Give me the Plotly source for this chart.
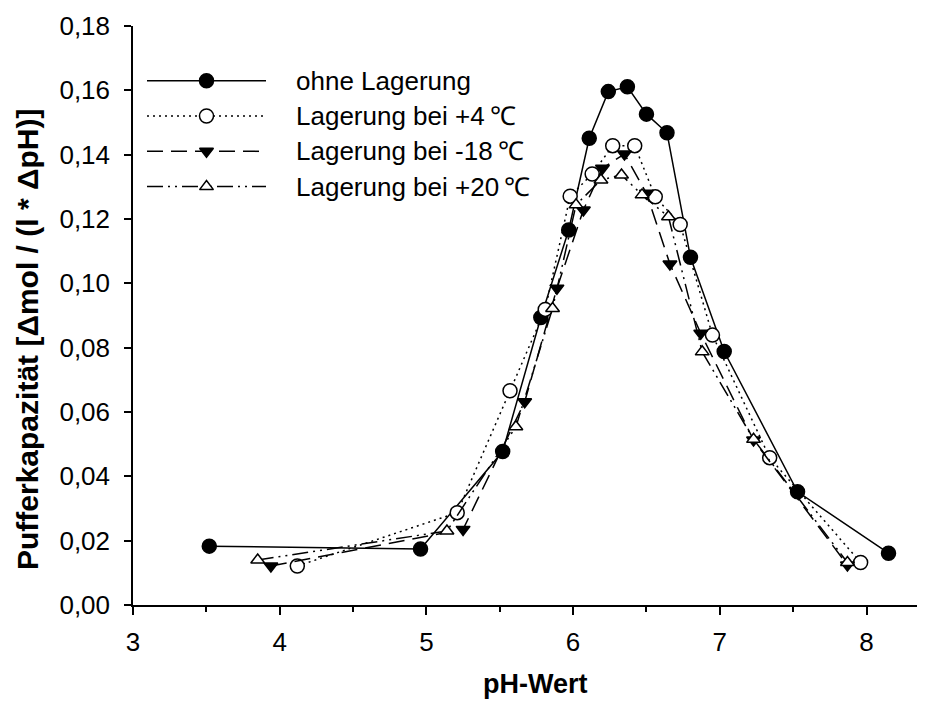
import plotly.graph_objects as go

# ---- data ----
ph_ohne = [3.52, 4.96, 5.52, 5.78, 5.97, 6.11, 6.24, 6.37, 6.50, 6.64, 6.80, 7.03, 7.53, 8.15]
pk_ohne = [0.0183, 0.0174, 0.0477, 0.0894, 0.1166, 0.1451, 0.1596, 0.1611, 0.1526, 0.1468, 0.1081, 0.0788, 0.0352, 0.0161]

ph_p4 = [4.12, 5.21, 5.57, 5.81, 5.98, 6.13, 6.27, 6.42, 6.56, 6.73, 6.95, 7.34, 7.96]
pk_p4 = [0.0121, 0.0287, 0.0666, 0.0919, 0.1271, 0.1340, 0.1428, 0.1428, 0.1269, 0.1183, 0.0839, 0.0458, 0.0132]

ph_m18 = [3.94, 5.25, 5.67, 5.89, 6.07, 6.20, 6.35, 6.50, 6.66, 6.87, 7.23, 7.87]
pk_m18 = [0.0121, 0.0235, 0.0632, 0.0985, 0.1228, 0.1358, 0.1402, 0.1280, 0.1060, 0.0845, 0.0513, 0.0124]

ph_p20 = [3.85, 5.14, 5.61, 5.86, 6.02, 6.19, 6.33, 6.47, 6.65, 6.88, 7.23, 7.87]
pk_p20 = [0.0140, 0.0230, 0.0554, 0.0922, 0.1244, 0.1321, 0.1337, 0.1275, 0.1207, 0.0787, 0.0515, 0.0132]

names = ["ohne Lagerung", "Lagerung bei +4\u2009\u2103", "Lagerung bei -18\u2009\u2103", "Lagerung bei +20\u2009\u2103"]
x_ticks = [3, 4, 5, 6, 7, 8]
y_ticks = [0.00, 0.02, 0.04, 0.06, 0.08, 0.10, 0.12, 0.14, 0.16, 0.18]
y_ticktext = [f"{v:.2f}".replace(".", ",") for v in y_ticks]

FONT = "Liberation Sans, Arial, sans-serif"
BLACK = "black"

# page layout (the page body adds an 8px offset)
OFF = 8
W, H = 909, 691
ML, MT, MB, MR = 125, 18, 94, 0
PW = W - ML - MR
PH = H - MT - MB
UNIT_X = 146.7  # px per pH unit


def px_x(page_x):
    return (page_x - OFF - ML) / PW


def px_y(page_y):
    return 1 - (page_y - OFF - MT) / PH


styles = [
    dict(dash="solid", symbol="circle", fill=BLACK, size=14),
    dict(dash="2px,4px", symbol="circle", fill="white", size=14),
    dict(dash="16px,8px", symbol="triangle-down", fill=BLACK, size=12),
    dict(dash="16px,5px,2px,5px,2px,5px", symbol="triangle-up", fill="white", size=12),
]
series = [(ph_ohne, pk_ohne), (ph_p4, pk_p4), (ph_m18, pk_m18), (ph_p20, pk_p20)]

fig = go.Figure()
for (xs, ys), st, nm in zip(series, styles, names):
    fig.add_trace(go.Scatter(
        x=xs, y=ys, mode="lines+markers", name=nm, showlegend=False,
        line=dict(color=BLACK, width=1.5, dash=st["dash"]),
        marker=dict(symbol=st["symbol"], size=st["size"], color=st["fill"],
                    line=dict(color=BLACK, width=1.5)),
    ))

# ---- custom legend on an overlay axis in page-pixel units ----
row0, row_step = 80.7, 35.3
for i, (st, nm) in enumerate(zip(styles, names)):
    yy = row0 + i * row_step
    fig.add_trace(go.Scatter(
        x=[147, 266], y=[yy, yy], mode="lines", xaxis="x2", yaxis="y2", showlegend=False,
        line=dict(color=BLACK, width=1.5, dash=st["dash"]), hoverinfo="skip"))
    fig.add_trace(go.Scatter(
        x=[206.5], y=[yy], mode="markers", xaxis="x2", yaxis="y2", showlegend=False,
        marker=dict(symbol=st["symbol"], size=st["size"], color=st["fill"],
                    line=dict(color=BLACK, width=1.5)), hoverinfo="skip"))
    fig.add_annotation(x=294, y=yy, xref="x2", yref="y2", text=nm, showarrow=False,
                       xanchor="left", yanchor="middle",
                       font=dict(family=FONT, size=26, color=BLACK))

fig.update_layout(
    width=W, height=H,
    margin=dict(l=ML, r=MR, t=MT, b=MB, autoexpand=False),
    paper_bgcolor="white", plot_bgcolor="white",
    font=dict(family=FONT, size=26, color=BLACK),
    xaxis=dict(range=[3, 3 + PW / UNIT_X], tickvals=x_ticks, ticks="outside", ticklen=8,
               tickwidth=1.5, tickcolor=BLACK, showline=True, linecolor=BLACK, linewidth=1.5,
               showgrid=False, zeroline=False, ticklabelstandoff=5,
               minor=dict(dtick=0.5, tick0=3, ticks="outside", ticklen=5, tickwidth=1.5,
                          tickcolor=BLACK, showgrid=False),
               tickfont=dict(family=FONT, size=26)),
    yaxis=dict(range=[0, 0.18], tickvals=y_ticks, ticktext=y_ticktext, ticks="outside",
               ticklen=7, tickwidth=1.5, tickcolor=BLACK, showline=True, linecolor=BLACK,
               linewidth=1.5, showgrid=False, zeroline=False, ticklabelstandoff=9,
               tickfont=dict(family=FONT, size=26)),
    xaxis2=dict(overlaying="x", range=[OFF + ML, OFF + ML + PW], visible=False),
    yaxis2=dict(overlaying="y", range=[OFF + MT + PH, OFF + MT], visible=False),
    showlegend=False,
)

fig.add_annotation(x=px_x(535), y=px_y(684), xref="paper", yref="paper",
                   text="<b>pH-Wert</b>", showarrow=False,
                   xanchor="center", yanchor="middle", font=dict(family=FONT, size=27))
fig.add_annotation(x=px_x(27), y=px_y(340), xref="paper", yref="paper",
                   text="<b>Pufferkapazität [Δmol / (l * ΔpH)]</b>", showarrow=False,
                   textangle=-90, xanchor="center", yanchor="middle",
                   font=dict(family=FONT, size=30))

fig.write_html("out.html")
